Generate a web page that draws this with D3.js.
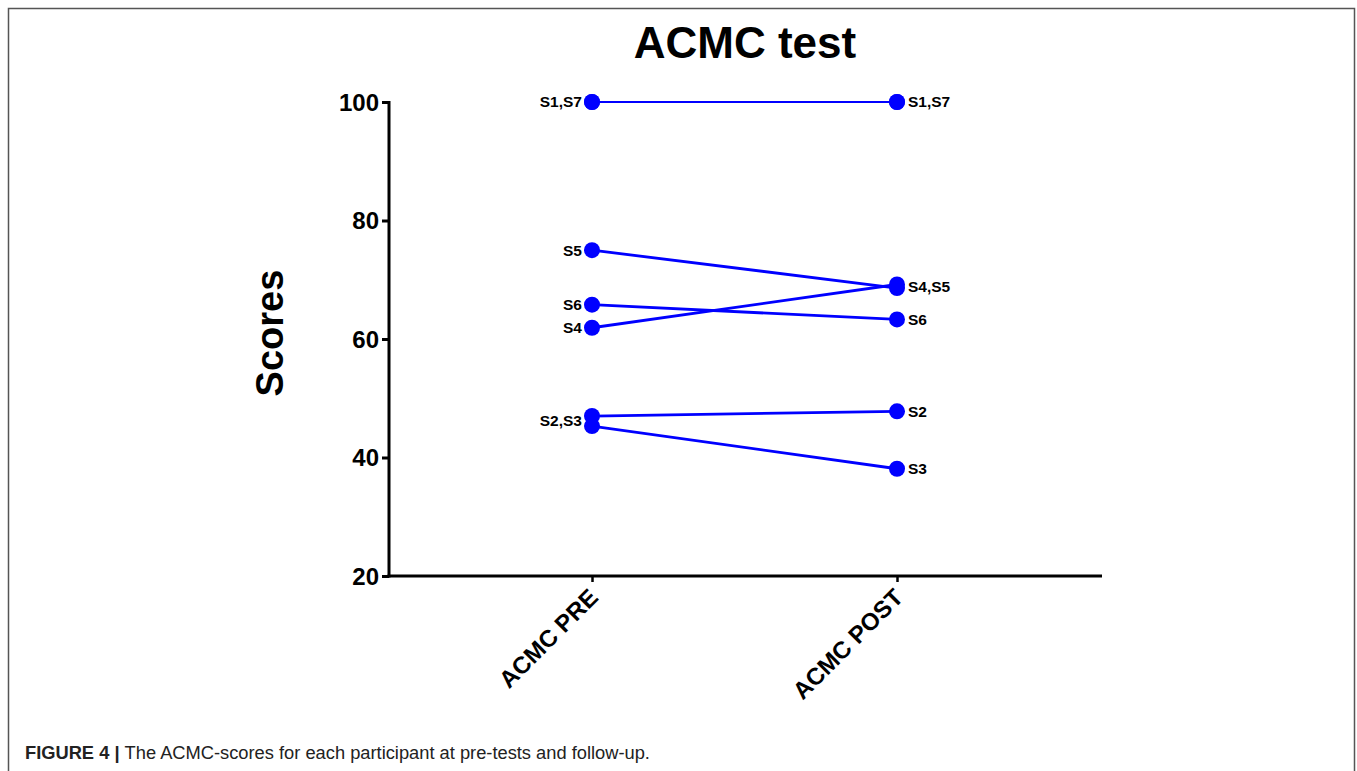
<!DOCTYPE html>
<html>
<head>
<meta charset="utf-8">
<script src="https://cdn.jsdelivr.net/npm/d3@7"></script>
<style>
  body { margin: 0; background: #fff; }
  svg { display: block; font-family: "Liberation Sans", Arial, sans-serif; }
</style>
</head>
<body>
<div id="chart"></div>
<script>
const width = 1357;
const height = 771;

// data
const groups = ["ACMC PRE", "ACMC POST"];
const subjects = ["S1", "S2", "S3", "S4", "S5", "S6", "S7"];
const preScores = [100, 47, 45.3, 61.9, 75, 65.8, 100];
const postScores = [100, 47.8, 38.1, 69.2, 68.6, 63.3, 100];
const yTicks = [20, 40, 60, 80, 100];

// point labels (grouped where points overlap)
const preLabels = [
  { text: "S1,S7", v: 100 },
  { text: "S5", v: 75 },
  { text: "S6", v: 65.8 },
  { text: "S4", v: 61.9 },
  { text: "S2,S3", v: 46.2 }
];
const postLabels = [
  { text: "S1,S7", v: 100 },
  { text: "S4,S5", v: 68.9 },
  { text: "S6", v: 63.3 },
  { text: "S2", v: 47.8 },
  { text: "S3", v: 38.1 }
];

const x = d3.scalePoint()
  .domain(groups)
  .range([592, 897]);

const y = d3.scaleLinear()
  .domain([20, 100])
  .range([576, 102]);

const svg = d3.create("svg").attr("width", width).attr("height", height);

// frame
svg.append("path")
  .attr("fill", "none")
  .attr("stroke", "#555")
  .attr("stroke-width", 1.5)
  .attr("d", `M8.5,${height + 2}V8.5H1354.5V${height + 2}`);

// title
svg.append("text")
  .attr("x", 745)
  .attr("y", 58)
  .attr("text-anchor", "middle")
  .attr("font-size", 44)
  .attr("font-weight", "bold")
  .text("ACMC test");

// y axis
const yAxis = svg.append("g")
  .attr("transform", "translate(389,0)")
  .call(d3.axisLeft(y).tickValues(yTicks).tickSize(7).tickPadding(3).tickSizeOuter(0));
yAxis.select(".domain").attr("stroke-width", 3).attr("d", `M0,${y(100) - 1}V${y(20) + 1.5}`);
yAxis.selectAll(".tick line").attr("stroke-width", 3);
yAxis.selectAll(".tick text")
  .attr("font-size", 24)
  .attr("font-weight", "bold")
  .attr("font-family", "Liberation Sans, Arial, sans-serif")
  .attr("fill", "#000")
  .attr("dy", "0.35em");

// x axis
const xAxis = svg.append("g")
  .attr("transform", `translate(0,${y(20)})`)
  .call(d3.axisBottom(x).tickSize(6).tickSizeOuter(0));
xAxis.select(".domain").attr("stroke-width", 3).attr("d", "M387.5,0H1102");
xAxis.selectAll(".tick line").attr("stroke-width", 2.5);
xAxis.selectAll(".tick text")
  .attr("font-size", 24)
  .attr("font-weight", "bold")
  .attr("font-family", "Liberation Sans, Arial, sans-serif")
  .attr("fill", "#000")
  .attr("text-anchor", "end")
  .attr("dy", null)
  .attr("y", 0)
  .attr("transform", "translate(7,23) rotate(-45)");

// y label
svg.append("text")
  .attr("transform", "translate(283,333) rotate(-90)")
  .attr("text-anchor", "middle")
  .attr("font-size", 38)
  .attr("font-weight", "bold")
  .text("Scores");

// lines per subject
const pairs = subjects.map((s, i) => ({ s, pre: preScores[i], post: postScores[i] }));
const line = d3.line().x(d => x(d.g)).y(d => y(d.v));

svg.append("g")
  .selectAll("path")
  .data(pairs)
  .join("path")
  .attr("fill", "none")
  .attr("stroke", "#0000ff")
  .attr("stroke-width", d => d.pre === 100 ? 1.8 : 2.8)
  .attr("d", d => line([{ g: groups[0], v: d.pre }, { g: groups[1], v: d.post }]));

const pts = pairs.flatMap(d => [{ g: groups[0], v: d.pre }, { g: groups[1], v: d.post }]);
svg.append("g")
  .selectAll("circle")
  .data(pts)
  .join("circle")
  .attr("cx", d => x(d.g))
  .attr("cy", d => y(d.v))
  .attr("r", 8)
  .attr("fill", "#0000ff");

// point labels
svg.append("g")
  .selectAll("text")
  .data(preLabels)
  .join("text")
  .attr("x", x(groups[0]) - 10)
  .attr("y", d => y(d.v))
  .attr("dy", "0.35em")
  .attr("text-anchor", "end")
  .attr("font-size", 15.5)
  .attr("font-weight", "bold")
  .text(d => d.text);

svg.append("g")
  .selectAll("text")
  .data(postLabels)
  .join("text")
  .attr("x", x(groups[1]) + 11)
  .attr("y", d => y(d.v))
  .attr("dy", "0.35em")
  .attr("font-size", 15.5)
  .attr("font-weight", "bold")
  .text(d => d.text);

// caption
const cap = svg.append("text")
  .attr("x", 25)
  .attr("y", 759)
  .attr("font-size", 18.3)
  .attr("fill", "#222");
cap.append("tspan").attr("font-weight", "bold").text("FIGURE 4 | ");
cap.append("tspan").text("The ACMC-scores for each participant at pre-tests and follow-up.");

document.getElementById("chart").append(svg.node());
</script>
</body>
</html>
